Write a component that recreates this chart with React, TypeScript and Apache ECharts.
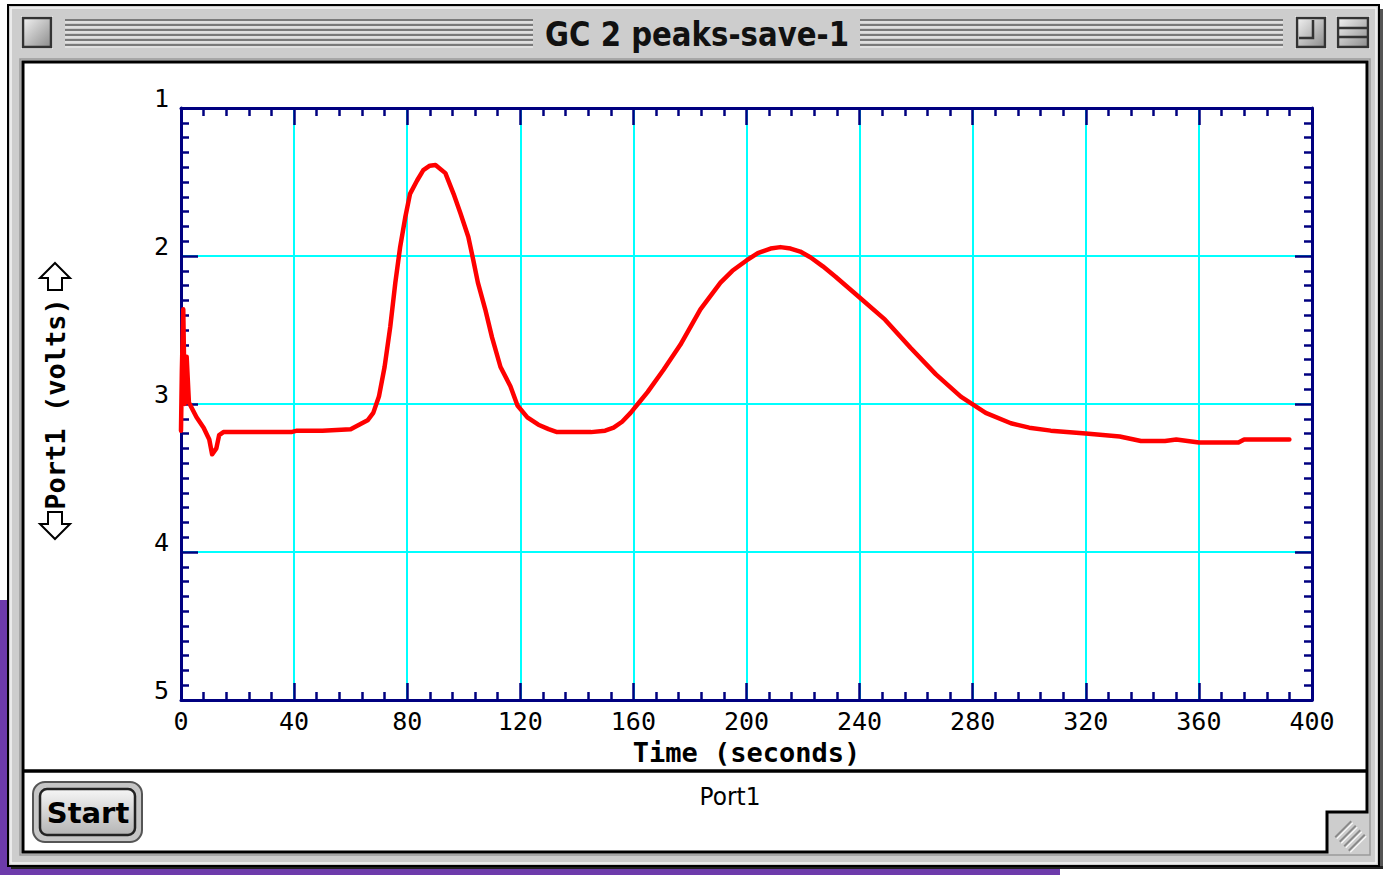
import React, { useEffect, useRef } from "react";
import * as echarts from "echarts";

// ---- data ----
const timeSeconds = [
  0, 0.3, 0.8, 1.3, 2.0, 2.8, 5.5, 8, 10, 11, 12.5, 13.5, 15, 20, 30, 39, 41, 50, 60, 63, 66, 68, 70, 72, 74,
  75.8, 77.5, 79.3, 81, 83.5, 85.7, 88, 90, 93.5, 96.4, 98.8, 101.6, 103.4, 105, 107.6, 110, 113, 116.5, 119,
  122.5, 126.4, 130, 133, 145, 150, 153, 156, 159, 162, 165, 170.6, 176.6, 183.7, 190.8, 195, 200, 204, 208.5,
  212, 215.6, 219, 222.7, 227, 231.5, 240, 249, 258, 267, 275.8, 284.6, 293.5, 300, 307.6, 320, 332, 339.5, 348,
  352, 360, 374, 376, 392,
];
const port1Volts = [
  3.18, 2.78, 2.36, 3.0, 2.68, 2.99, 3.09, 3.16, 3.24, 3.34, 3.3, 3.21, 3.19, 3.19, 3.19, 3.19, 3.18, 3.18, 3.17,
  3.14, 3.11, 3.06, 2.95, 2.75, 2.48, 2.18, 1.94, 1.74, 1.58, 1.49, 1.42, 1.39, 1.385, 1.44, 1.58, 1.71, 1.87,
  2.03, 2.18, 2.36, 2.55, 2.75, 2.88, 3.01, 3.09, 3.14, 3.17, 3.19, 3.19, 3.18, 3.16, 3.12, 3.06, 2.99, 2.92,
  2.77, 2.6, 2.36, 2.18, 2.1, 2.03, 1.98, 1.95, 1.94, 1.95, 1.97, 2.01, 2.07, 2.14, 2.28, 2.43, 2.62, 2.8, 2.95,
  3.06, 3.13, 3.16, 3.18, 3.2, 3.22, 3.25, 3.25, 3.24, 3.26, 3.26, 3.24, 3.24,
];
const xRange = [0, 400];
const xStep = 40;
const yRange = [1, 5];
const yStep = 1;
const windowTitle = "GC 2 peaks-save-1";
const xAxisName = "Time (seconds)";
const yAxisName = "Port1 (volts)";
const seriesName = "Port1";
const buttonLabel = "Start";

const W = 1385;
const H = 875;
const NAVY = "#000080";
const CYAN = "#00ffff";
const MONO = '"DejaVu Sans Mono", monospace';

function stripes(x1: number, x2: number) {
  const els: any[] = [];
  for (let i = 0; i < 6; i++) {
    const y = 20 + i * 5;
    els.push({ type: "line", z: -5, shape: { x1, y1: y, x2, y2: y }, style: { stroke: "#7a7a7a", lineWidth: 1.8 } });
    els.push({ type: "line", z: -5, shape: { x1, y1: y + 2, x2, y2: y + 2 }, style: { stroke: "#f4f4f4", lineWidth: 1.2 } });
  }
  return els;
}

function boxGrad() {
  return {
    type: "linear", x: 0, y: 0, x2: 1, y2: 1,
    colorStops: [{ offset: 0, color: "#f2f2f2" }, { offset: 1, color: "#8c8c8c" }],
  };
}

function chrome(): any[] {
  const els: any[] = [];
  const z = -8;
  els.push({ type: "rect", z: -10, shape: { x: 0, y: 0, width: W, height: H }, style: { fill: "#ffffff" } });
  els.push({ type: "rect", z: -10, shape: { x: 0, y: 600, width: 8, height: 275 }, style: { fill: "#6d3bab" } });
  els.push({ type: "rect", z: -10, shape: { x: 0, y: 866, width: 1060, height: 9 }, style: { fill: "#6d3bab" } });
  // window frame
  els.push({ type: "rect", z: -9, shape: { x: 1379, y: 9, width: 4, height: 860 }, style: { fill: "#555" } });
  els.push({ type: "rect", z: -9, shape: { x: 11, y: 866, width: 1372, height: 3 }, style: { fill: "#222" } });
  els.push({ type: "rect", z, shape: { x: 8, y: 5, width: 1371, height: 861 }, style: { fill: "#cdcdcd", stroke: "#000", lineWidth: 2 } });
  els.push({ type: "rect", z, shape: { x: 11, y: 8, width: 1365, height: 855 }, style: { fill: "none", stroke: "#f5f5f5", lineWidth: 1.5 } });
  els.push({ type: "rect", z, shape: { x: 20, y: 59, width: 1350, height: 796 }, style: { fill: "none", stroke: "#9a9a9a", lineWidth: 1.5 } });
  // title bar
  els.push(...stripes(65, 533));
  els.push(...stripes(860, 1283));
  // close box
  els.push({ type: "rect", z: -5, shape: { x: 21, y: 16, width: 32, height: 33 }, style: { fill: "#f2f2f2" } });
  els.push({ type: "rect", z: -4, shape: { x: 23, y: 18, width: 28, height: 29 }, style: { fill: boxGrad(), stroke: "#333", lineWidth: 2.5 } });
  // zoom box
  els.push({ type: "rect", z: -5, shape: { x: 1295, y: 16, width: 32, height: 33 }, style: { fill: "#f2f2f2" } });
  els.push({ type: "rect", z: -4, shape: { x: 1297, y: 18, width: 28, height: 29 }, style: { fill: boxGrad(), stroke: "#333", lineWidth: 2.5 } });
  els.push({ type: "polyline", z: -3, shape: { points: [[1299, 38], [1313, 38], [1313, 20]] }, style: { fill: "none", stroke: "#333", lineWidth: 2.5 } });
  // collapse box
  els.push({ type: "rect", z: -5, shape: { x: 1336, y: 16, width: 34, height: 33 }, style: { fill: "#f2f2f2" } });
  els.push({ type: "rect", z: -4, shape: { x: 1338, y: 18, width: 30, height: 29 }, style: { fill: boxGrad(), stroke: "#333", lineWidth: 2.5 } });
  els.push({ type: "line", z: -3, shape: { x1: 1339, y1: 28, x2: 1367, y2: 28 }, style: { stroke: "#333", lineWidth: 2.5 } });
  els.push({ type: "line", z: -3, shape: { x1: 1339, y1: 37, x2: 1367, y2: 37 }, style: { stroke: "#333", lineWidth: 2.5 } });
  // title
  els.push({
    type: "text", z: -3, x: 697, y: 34, scaleX: 0.86,
    style: { x: 0, y: 0, text: windowTitle, font: 'bold 34px "DejaVu Sans", sans-serif', fill: "#111",
      textAlign: "center", textVerticalAlign: "middle", align: "center", verticalAlign: "middle" },
  });
  // content area
  els.push({
    type: "polygon", z: -6,
    shape: { points: [[23, 62], [1367, 62], [1367, 812], [1327, 812], [1327, 852], [23, 852]] },
    style: { fill: "#ffffff", stroke: "#000", lineWidth: 3 },
  });
  els.push({ type: "line", z: -5, shape: { x1: 23, y1: 771, x2: 1367, y2: 771 }, style: { stroke: "#000", lineWidth: 3.5 } });
  // grow box
  for (let k = -1.5; k <= 1.5; k += 1) {
    const cx = 1350 + 4.5 * k;
    const cy = 836 + 4.5 * k;
    els.push({ type: "line", z: -4, shape: { x1: cx - 8, y1: cy + 8, x2: cx + 8, y2: cy - 8 }, style: { stroke: "#8a8a8a", lineWidth: 2 } });
    els.push({ type: "line", z: -4, shape: { x1: cx - 6.5, y1: cy + 9.5, x2: cx + 9.5, y2: cy - 6.5 }, style: { stroke: "#f8f8f8", lineWidth: 1.2 } });
  }
  // y-axis scale arrows (outline)
  els.push({
    type: "polygon", z: -2,
    shape: { points: [[55, 263], [70, 278], [62, 278], [62, 290], [48, 290], [48, 278], [40, 278]] },
    style: { fill: "#ffffff", stroke: "#000", lineWidth: 2 },
  });
  els.push({
    type: "polygon", z: -2,
    shape: { points: [[55, 539], [70, 524], [62, 524], [62, 512], [48, 512], [48, 524], [40, 524]] },
    style: { fill: "#ffffff", stroke: "#000", lineWidth: 2 },
  });
  // start button
  els.push({ type: "rect", z: -4, shape: { x: 33, y: 782, width: 109, height: 60, r: 12 }, style: { fill: "#c6c6c6", stroke: "#555", lineWidth: 2 } });
  els.push({
    type: "rect", z: -3, shape: { x: 40, y: 789, width: 95, height: 46, r: 7 },
    style: {
      fill: { type: "linear", x: 0, y: 0, x2: 0, y2: 1, colorStops: [{ offset: 0, color: "#f6f6f6" }, { offset: 1, color: "#b4b4b4" }] },
      stroke: "#222", lineWidth: 2.5,
    },
  });
  els.push({
    type: "text", z: -2, x: 88, y: 813,
    style: { x: 0, y: 0, text: buttonLabel, font: 'bold 29px "DejaVu Sans", sans-serif', fill: "#000",
      textAlign: "center", textVerticalAlign: "middle", align: "center", verticalAlign: "middle" },
  });
  // series label
  els.push({
    type: "text", z: -2, x: 730, y: 797, scaleX: 0.93,
    style: { x: 0, y: 0, text: seriesName, font: '25px "DejaVu Sans", sans-serif', fill: "#000",
      textAlign: "center", textVerticalAlign: "middle", align: "center", verticalAlign: "middle" },
  });
  return els;
}

function xAxisBase(position: "bottom" | "top", labels: boolean) {
  return {
    type: "value",
    position,
    min: xRange[0],
    max: xRange[1],
    interval: xStep,
    axisLine: { show: true, onZero: false, lineStyle: { color: NAVY, width: 3 } },
    axisTick: { show: true, inside: true, length: 17, lineStyle: { color: NAVY, width: 2.5 } },
    minorTick: { show: true, splitNumber: 5, length: 8, lineStyle: { color: NAVY, width: 2.5 } },
    splitLine: { show: labels, lineStyle: { color: CYAN, width: 2 } },
    minorSplitLine: { show: false },
    axisLabel: labels
      ? { show: true, margin: 9, color: "#000", fontFamily: MONO, fontSize: 25 }
      : { show: false },
    name: labels ? xAxisName : "",
    nameLocation: "middle",
    nameGap: 36,
    nameTextStyle: { color: "#000", fontFamily: MONO, fontWeight: "bold", fontSize: 27 },
  };
}

function yAxisBase(position: "left" | "right", labels: boolean) {
  return {
    type: "value",
    position,
    inverse: true,
    min: yRange[0],
    max: yRange[1],
    interval: yStep,
    axisLine: { show: true, onZero: false, lineStyle: { color: NAVY, width: 3 } },
    axisTick: { show: true, inside: true, length: 17, lineStyle: { color: NAVY, width: 2.5 } },
    minorTick: { show: true, splitNumber: 10, length: 8, lineStyle: { color: NAVY, width: 2.5 } },
    splitLine: { show: labels, lineStyle: { color: CYAN, width: 2 } },
    minorSplitLine: { show: false },
    axisLabel: labels
      ? { show: true, margin: 12, color: "#000", fontFamily: MONO, fontSize: 25, verticalAlign: "bottom", lineHeight: 20 }
      : { show: false },
    name: labels ? yAxisName : "",
    nameLocation: "middle",
    nameRotate: 90,
    nameGap: 112,
    nameTextStyle: { color: "#000", fontFamily: MONO, fontWeight: "bold", fontSize: 27 },
  };
}

export default function App() {
  const ref = useRef<HTMLDivElement>(null);
  useEffect(() => {
    if (!ref.current) return;
    const chart = echarts.init(ref.current, undefined, { renderer: "svg" });
    const data = timeSeconds.map((t, i) => [t, port1Volts[i]]);
    chart.setOption({
      animation: false,
      backgroundColor: "#ffffff",
      graphic: { elements: chrome() },
      grid: { left: 181, top: 108, width: 1131, height: 592, containLabel: false },
      xAxis: [xAxisBase("bottom", true), xAxisBase("top", false)],
      yAxis: [yAxisBase("left", true), yAxisBase("right", false)],
      series: [
        {
          type: "line",
          name: seriesName,
          xAxisIndex: 0,
          yAxisIndex: 0,
          data,
          symbol: "none",
          showSymbol: false,
          smooth: false,
          z: 5,
          lineStyle: { color: "#ff0000", width: 4.5, join: "round", cap: "round" },
          itemStyle: { color: "#ff0000" },
        },
      ],
    });
    return () => chart.dispose();
  }, []);
  return (
    <div
      ref={ref}
      style={{ position: "fixed", left: 0, top: 0, width: W, height: H }}
    />
  );
}
